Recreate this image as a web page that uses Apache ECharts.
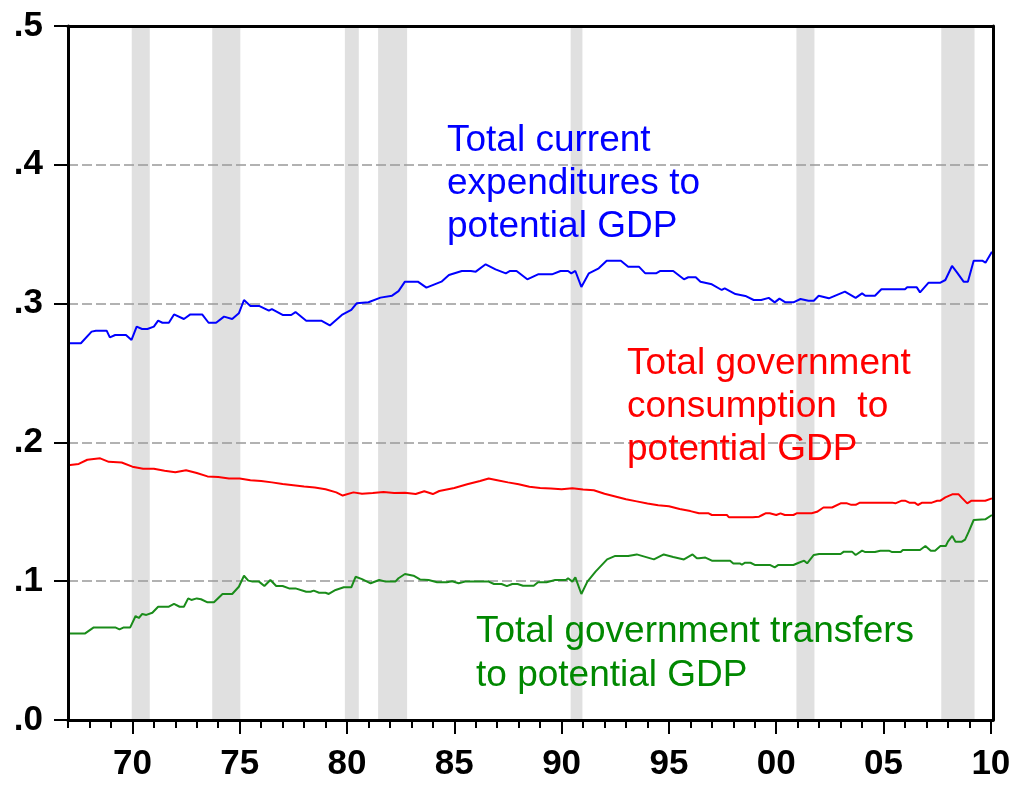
<!DOCTYPE html>
<html>
<head>
<meta charset="utf-8">
<script src="https://cdn.jsdelivr.net/npm/echarts@6/dist/echarts.min.js"></script>
<style>
  html, body { margin: 0; padding: 0; background: #fff; }
  #chart { width: 1017px; height: 786px; }
</style>
</head>
<body>
<div id="chart"></div>
<script>
// ratios to potential GDP, [year, value]
var totalExpenditures = [
  [1967.0,.2714],[1967.6,.2714],[1968.1,.2798],[1968.3,.2805],[1968.8,.2805],[1968.95,.2757],[1969.2,.2774],[1969.7,.2774],
  [1969.96,.2738],[1970.2,.2834],[1970.45,.2817],[1970.7,.2817],[1971.0,.2834],[1971.2,.2877],[1971.4,.2862],[1971.7,.2862],
  [1971.94,.2922],[1972.4,.2889],[1972.7,.2922],[1973.25,.2922],[1973.55,.2862],[1973.9,.2862],[1974.27,.2906],[1974.65,.2889],
  [1974.96,.293],[1975.2,.3026],[1975.5,.2983],[1975.9,.2983],[1976.36,.2949],[1976.5,.296],[1977.0,.2918],[1977.4,.2918],
  [1977.6,.2939],[1978.1,.2877],[1978.8,.2877],[1979.2,.2843],[1979.76,.2918],[1980.2,.2954],[1980.45,.3002],[1981.0,.301],
  [1981.56,.3043],[1982.1,.3057],[1982.4,.309],[1982.7,.3158],[1983.3,.3158],[1983.7,.3115],[1984.4,.3158],[1984.75,.3206],
  [1985.35,.3235],[1985.77,.3235],[1986.0,.323],[1986.46,.3283],[1986.92,.3247],[1987.4,.3218],[1987.6,.3235],[1987.9,.3235],
  [1988.4,.3175],[1988.9,.3211],[1989.55,.3211],[1989.95,.3235],[1990.3,.3235],[1990.45,.3218],[1990.64,.3235],[1990.92,.312],
  [1991.27,.3218],[1991.73,.3254],[1992.1,.3309],[1992.76,.3309],[1993.1,.3266],[1993.6,.3266],[1993.9,.3218],[1994.4,.3218],
  [1994.6,.3235],[1995.2,.3235],[1995.7,.3175],[1995.9,.319],[1996.25,.319],[1996.47,.3158],[1997.0,.3139],[1997.46,.3098],
  [1997.6,.311],[1998.1,.3069],[1998.56,.3055],[1998.95,.3026],[1999.3,.3026],[1999.65,.3041],[1999.93,.3009],[2000.15,.3036],
  [2000.43,.3009],[2000.8,.3009],[2001.13,.3033],[2001.5,.3021],[2001.75,.3021],[2001.98,.3057],[2002.45,.3038],[2003.2,.3086],
  [2003.7,.3041],[2004.0,.3074],[2004.15,.3057],[2004.6,.3057],[2004.9,.3103],[2006.0,.3103],[2006.1,.3117],[2006.55,.3117],
  [2006.7,.3081],[2007.1,.3151],[2007.65,.3151],[2007.88,.317],[2008.19,.3271],[2008.42,.3225],[2008.73,.3158],[2008.93,.3158],
  [2009.2,.3309],[2009.6,.3309],[2009.75,.3295],[2010.05,.3374]
];
var govConsumption = [
  [1967.0,.1835],[1967.5,.1845],[1967.9,.1875],[1968.5,.1885],[1968.9,.186],[1969.5,.1855],[1970.0,.1825],[1970.5,.181],
  [1971.0,.181],[1971.5,.1795],[1972.0,.1785],[1972.5,.18],[1973.0,.178],[1973.5,.1755],[1974.0,.175],[1974.5,.174],
  [1975.0,.174],[1975.5,.1728],[1976.0,.1722],[1976.5,.1712],[1977.0,.17],[1977.5,.1692],[1978.0,.1682],[1978.5,.1675],
  [1979.0,.1663],[1979.5,.164],[1979.8,.1617],[1980.3,.164],[1980.7,.163],[1981.2,.1635],[1981.7,.1642],[1982.2,.1635],
  [1982.7,.1638],[1983.2,.1628],[1983.6,.1648],[1984.0,.1628],[1984.3,.165],[1985.0,.1672],[1985.6,.1698],[1986.2,.1722],
  [1986.6,.174],[1987.0,.1728],[1987.5,.1712],[1988.0,.1698],[1988.5,.168],[1989.0,.1672],[1989.5,.1668],[1990.0,.1662],
  [1990.5,.167],[1991.0,.166],[1991.5,.1655],[1992.0,.163],[1992.5,.161],[1993.0,.159],[1993.5,.1575],[1994.0,.156],
  [1994.5,.1548],[1995.0,.154],[1995.5,.152],[1996.0,.1505],[1996.4,.1489],[1996.85,.1489],[1997.0,.1477],[1997.7,.1477],
  [1997.8,.146],[1998.9,.146],[1999.2,.1465],[1999.35,.1477],[1999.5,.1489],[1999.7,.1489],[2000.0,.1477],[2000.2,.1489],
  [2000.4,.1477],[2000.8,.1477],[2000.95,.1489],[2001.65,.1489],[2001.9,.15],[2002.2,.1531],[2002.6,.1531],[2003.0,.1561],
  [2003.3,.1561],[2003.5,.155],[2003.7,.155],[2003.9,.1566],[2005.4,.1566],[2005.55,.1561],[2005.85,.158],[2006.0,.158],
  [2006.2,.1566],[2006.45,.1566],[2006.6,.1549],[2006.8,.1566],[2007.25,.1566],[2007.5,.158],[2007.65,.158],[2007.88,.1604],
  [2008.2,.1626],[2008.5,.1626],[2008.65,.16],[2008.9,.1561],[2009.1,.158],[2009.74,.158],[2010.05,.1597]
];
var govTransfers = [
  [1967.0,.0624],[1967.8,.0624],[1968.2,.0667],[1969.2,.0667],[1969.4,.0653],[1969.6,.0667],[1969.9,.0667],[1970.15,.0749],
  [1970.3,.0735],[1970.46,.0764],[1970.65,.0757],[1970.93,.0773],[1971.2,.0816],[1971.7,.0816],[1971.94,.0836],[1972.2,.0816],
  [1972.4,.0816],[1972.6,.0876],[1972.75,.0865],[1973.0,.0876],[1973.2,.087],[1973.5,.0848],[1973.8,.0848],[1974.2,.0908],
  [1974.65,.0908],[1974.96,.096],[1975.2,.1039],[1975.4,.1004],[1975.6,.0997],[1975.9,.0997],[1976.15,.0965],[1976.43,.1009],
  [1976.7,.0965],[1977.0,.0965],[1977.3,.0948],[1977.6,.0948],[1978.1,.0924],[1978.3,.0924],[1978.45,.0932],[1978.7,.0917],
  [1979.0,.0917],[1979.15,.0908],[1979.47,.0937],[1979.85,.0956],[1980.2,.0956],[1980.4,.1032],[1980.7,.1015],[1981.1,.0985],
  [1981.5,.1009],[1981.8,.0997],[1982.25,.0997],[1982.4,.1021],[1982.7,.1052],[1983.1,.104],[1983.4,.1013],[1983.8,.1009],
  [1984.2,.0992],[1984.65,.0992],[1984.9,.1],[1985.2,.0985],[1985.5,.0997],[1986.6,.0997],[1986.85,.098],[1987.2,.098],
  [1987.45,.0965],[1987.7,.098],[1987.95,.098],[1988.2,.0967],[1988.7,.0967],[1988.9,.0992],[1989.3,.0992],[1989.7,.1009],
  [1990.2,.1009],[1990.3,.1021],[1990.5,.0997],[1990.64,.1028],[1990.92,.0908],[1991.2,.0997],[1991.58,.1069],[1992.12,.1157],
  [1992.5,.1182],[1993.1,.1182],[1993.5,.1193],[1993.9,.1175],[1994.3,.1157],[1994.76,.1193],[1995.2,.1175],[1995.7,.1157],
  [1996.1,.1193],[1996.3,.1165],[1996.4,.1165],[1996.7,.117],[1997.0,.1148],[1997.85,.1148],[1998.0,.1128],[1998.3,.1128],
  [1998.4,.112],[1998.55,.1133],[1998.8,.1133],[1999.0,.1117],[1999.7,.1117],[1999.93,.11],[2000.1,.1117],[2000.8,.1117],
  [2001.05,.1133],[2001.3,.1148],[2001.44,.1129],[2001.75,.1189],[2002.0,.1196],[2003.0,.1196],[2003.15,.1213],[2003.53,.1213],
  [2003.7,.1189],[2004.0,.122],[2004.15,.121],[2004.6,.121],[2004.85,.122],[2005.25,.122],[2005.4,.121],[2005.8,.121],
  [2005.9,.1225],[2006.7,.1225],[2006.95,.1254],[2007.2,.122],[2007.4,.122],[2007.65,.1254],[2007.9,.1254],[2008.0,.1285],
  [2008.2,.1326],[2008.35,.1285],[2008.65,.1285],[2008.8,.13],[2008.97,.1357],[2009.2,.1441],[2009.74,.1446],[2010.05,.1477]
];
// NBER recessions [start, end]
var recessions = [
  [1969.97, 1970.81], [1973.72, 1975.03], [1979.9, 1980.55], [1981.45, 1982.8],
  [1990.42, 1990.97], [2000.94, 2001.78], [2007.69, 2009.24]
];
var majorYears = [1970, 1975, 1980, 1985, 1990, 1995, 2000, 2005, 2010];
var allYears = [];
for (var y = 1967; y <= 2010; y++) allYears.push(y);

var FONT = "'Liberation Sans', Arial, sans-serif";
var myChart = echarts.init(document.getElementById('chart'));

myChart.setOption({
  animation: false,
  grid: { left: 68, right: 24, top: 26, bottom: 66 },
  xAxis: [
    {
      type: 'value', min: 1967, max: 2010.1, position: 'bottom', z: 4,
      axisLine: { onZero: false, lineStyle: { color: '#000', width: 3 } },
      axisTick: { customValues: majorYears, length: 14, lineStyle: { color: '#000', width: 2 } },
      axisLabel: {
        customValues: majorYears, margin: 27, color: '#000', fontSize: 35, fontWeight: 'bold', fontFamily: FONT,
        formatter: function (v) { var s = String(Math.round(v) % 100); return s.length < 2 ? '0' + s : s; }
      },
      splitLine: { show: false }
    },
    {
      type: 'value', min: 1967, max: 2010.1, position: 'bottom', z: 4,
      axisLine: { show: false, onZero: false },
      axisTick: { customValues: allYears, length: 8, lineStyle: { color: '#000', width: 2 } },
      axisLabel: { show: false },
      splitLine: { show: false }
    },
    {
      type: 'value', min: 1967, max: 2010.1, position: 'top', z: 4,
      axisLine: { onZero: false, lineStyle: { color: '#000', width: 3 } },
      axisTick: { show: false }, axisLabel: { show: false }, splitLine: { show: false }
    }
  ],
  yAxis: [
    {
      type: 'value', min: 0, max: 0.5, interval: 0.1, position: 'left', z: 4,
      axisLine: { show: true, onZero: false, lineStyle: { color: '#000', width: 3 } },
      axisTick: { show: true, length: 14, lineStyle: { color: '#000', width: 2 } },
      axisLabel: {
        margin: 25, color: '#000', fontSize: 35, fontWeight: 'bold', fontFamily: FONT,
        formatter: function (v) { return v.toFixed(1).replace('0.', '.'); }
      },
      splitLine: { show: false }
    },
    {
      type: 'value', min: 0, max: 0.5, interval: 0.1, position: 'right', z: 4,
      axisLine: { show: true, onZero: false, lineStyle: { color: '#000', width: 3 } },
      axisTick: { show: false }, axisLabel: { show: false }, splitLine: { show: false }
    },
    {
      type: 'value', min: 0, max: 0.5, interval: 0.1, position: 'left', z: 2,
      axisLine: { show: false }, axisTick: { show: false }, axisLabel: { show: false },
      splitLine: { show: true, lineStyle: { color: '#999', width: 1.5, type: [10, 4] } }
    }
  ],
  series: [
    {
      type: 'custom', z: 1, silent: true,
      data: recessions,
      renderItem: function (params, api) {
        var p0 = api.coord([api.value(0), 0.5]);
        var p1 = api.coord([api.value(1), 0]);
        return { type: 'rect', shape: { x: p0[0], y: p0[1], width: p1[0] - p0[0], height: p1[1] - p0[1] },
                 style: { fill: '#e0e0e0' } };
      }
    },
    { type: 'line', z: 3, data: totalExpenditures, showSymbol: false, symbol: 'none',
      lineStyle: { color: '#0000ff', width: 2 } },
    { type: 'line', z: 3, data: govConsumption, showSymbol: false, symbol: 'none',
      lineStyle: { color: '#ff0000', width: 2 } },
    { type: 'line', z: 3, data: govTransfers, showSymbol: false, symbol: 'none',
      lineStyle: { color: '#1a8c1a', width: 2 } }
  ],
  graphic: [
    { type: 'text', left: 447, top: 119, z: 10,
      style: { text: 'Total current\nexpenditures to\npotential GDP', fill: '#0000ff',
               font: '37px ' + FONT, lineHeight: 43 } },
    { type: 'text', left: 627, top: 342, z: 10,
      style: { text: 'Total government\nconsumption  to\npotential GDP', fill: '#ff0000',
               font: '37px ' + FONT, lineHeight: 43 } },
    { type: 'text', left: 476, top: 610, z: 10,
      style: { text: 'Total government transfers\nto potential GDP', fill: '#008800',
               font: '37px ' + FONT, lineHeight: 44 } }
  ]
});
</script>
</body>
</html>
